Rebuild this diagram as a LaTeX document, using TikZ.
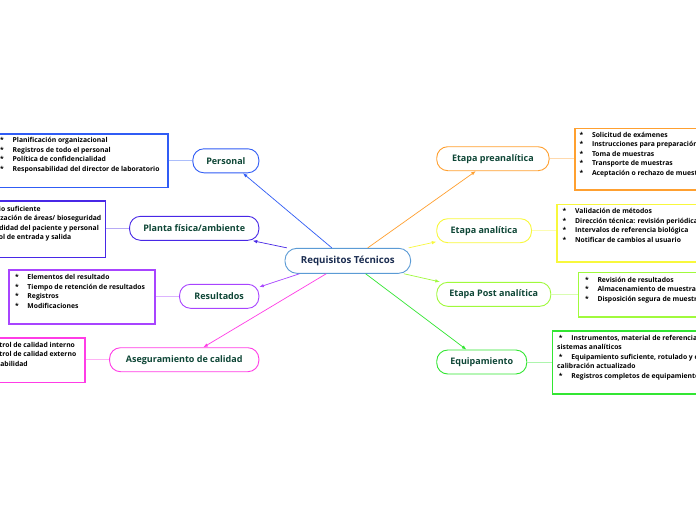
\documentclass[tikz,border=0pt]{standalone}
\usepackage{fontspec}
\setmainfont{Open Sans}
\usepackage{tikz}
\usetikzlibrary{arrows.meta,positioning}
\definecolor{reqBlue}{RGB}{91,155,213}
\definecolor{reqText}{RGB}{26,44,80}
\definecolor{topicText}{RGB}{14,70,54}
\definecolor{cPersonal}{RGB}{48,92,245}
\definecolor{cPlanta}{RGB}{72,40,230}
\definecolor{cResult}{RGB}{168,68,255}
\definecolor{cAseg}{RGB}{255,60,230}
\definecolor{cPre}{RGB}{255,160,48}
\definecolor{cAna}{RGB}{248,248,60}
\definecolor{cPost}{RGB}{160,250,60}
\definecolor{cEquip}{RGB}{50,230,50}
\newcommand{\itm}[1]{\makebox[12.5pt][l]{*}#1}

\begin{document}
\begin{tikzpicture}[x=1pt,y=-1pt,
  topic/.style={draw=#1, fill=white, line width=0.9pt, rounded corners=11pt, minimum height=24pt, inner sep=2pt, text=topicText, font=\fontsize{9}{10}\selectfont\bfseries},
  listbox/.style={draw=#1, line width=1.6pt, anchor=north west, inner sep=0pt},
  listtext/.style={anchor=north west, inner sep=0pt, align=left, font=\fontsize{6.8}{9.5}\selectfont\bfseries},
  feeder/.style={draw=#1!40, line width=0.8pt},
  branch/.style={draw=#1, line width=0.7pt, -{Latex[length=4.5pt,width=3.5pt]}}]
\useasboundingbox (0,0) rectangle (696,520);
\clip (0,0) rectangle (696,520);
\fill[white] (0,0) rectangle (696,520);

% central topic
\node[draw=reqBlue, line width=0.9pt, rounded corners=12pt, minimum width=125.7pt, minimum height=25pt, text=reqText, font=\fontsize{9.7}{11}\selectfont\bfseries] (req) at (347.8,260.8) {Requisitos Técnicos};

% left topics
\node[topic=cPersonal, anchor=east, minimum width=66pt] (personal) at (259.3,160.8) {Personal};
\node[topic=cPlanta, anchor=east, minimum width=129.3pt] (planta) at (259.3,228.3) {Planta física/ambiente};
\node[topic=cResult, anchor=east, minimum width=79.3pt] (resultados) at (259.3,296.3) {Resultados};
\node[topic=cAseg, anchor=east, minimum width=149.3pt] (aseguramiento) at (259.3,359.7) {Aseguramiento de calidad};

% right topics
\node[topic=cPre, anchor=west, minimum width=112.3pt] (preana) at (436.3,158.7) {Etapa preanalítica};
\node[topic=cAna, anchor=west, minimum width=94.7pt] (ana) at (436.3,230.7) {Etapa analítica};
\node[topic=cPost, anchor=west, minimum width=114pt] (postana) at (436.3,294.3) {Etapa Post analítica};
\node[topic=cEquip, anchor=west, minimum width=90pt] (equipo) at (436.3,362) {Equipamiento};

% detail boxes
\node[listbox=cPersonal, minimum width=177pt, minimum height=53.5pt] (personalbox) at (-10,133.3) {};
\node[listtext] (personallist) at (0,137.3) {\itm{Planificación organizacional}\\ \itm{Registros de todo el personal}\\ \itm{Política de confidencialidad}\\ \itm{Responsabilidad del director de laboratorio}};

\node[listbox=cPlanta, minimum width=164.5pt, minimum height=56.7pt] (plantabox) at (-60,200) {};
\node[listtext] (plantalist) at (-32.8,205.8) {\itm{Espacio suficiente}\\ \itm{Señalización de áreas/ bioseguridad}\\ \itm{Comodidad del paciente y personal}\\ \itm{Control de entrada y salida}};

\node[listbox=cResult, minimum width=146pt, minimum height=54.3pt] (resultadosbox) at (8.3,269) {};
\node[listtext] (resultadoslist) at (14.8,274.3) {\itm{Elementos del resultado}\\ \itm{Tiempo de retención de resultados}\\ \itm{Registros}\\ \itm{Modificaciones}};

\node[listbox=cAseg, minimum width=134pt, minimum height=44.4pt] (asegbox) at (-50,337.3) {};
\node[listtext] (aseglist) at (-26.3,341.8) {\itm{Control de calidad interno}\\ \itm{Control de calidad externo}\\ \itm{Trazabilidad}};

\node[listbox=cPre, minimum width=150pt, minimum height=61.5pt] (preanabox) at (574,127.5) {};
\node[listtext] (preanalist) at (579.3,131.8) {\itm{Solicitud de exámenes}\\ \itm{Instrucciones para preparación del paciente}\\ \itm{Toma de muestras}\\ \itm{Transporte de muestras}\\ \itm{Aceptación o rechazo de muestras}};

\node[listbox=cAna, minimum width=170pt, minimum height=57.5pt] (anabox) at (556,203.5) {};
\node[listtext] (analist) at (562.5,208.1) {\itm{Validación de métodos}\\ \itm{Dirección técnica: revisión periódica}\\ \itm{Intervalos de referencia biológica}\\ \itm{Notificar de cambios al usuario}};

\node[listbox=cPost, minimum width=150pt, minimum height=44.3pt] (postbox) at (577.7,271.7) {};
\node[listtext] (postlist) at (584.8,276.6) {\itm{Revisión de resultados}\\ \itm{Almacenamiento de muestras}\\ \itm{Disposición segura de muestras}};

\node[listbox=cEquip, minimum width=170pt, minimum height=63.3pt] (equipobox) at (551.7,330) {};
\node[listtext] (equipolist) at (557,334.8) {\hspace*{1.7pt}\itm{Instrumentos, material de referencia y}\\ sistemas analíticos\\ \hspace*{1.7pt}\itm{Equipamiento suficiente, rotulado y con}\\ calibración actualizado\\ \hspace*{1.7pt}\itm{Registros completos de equipamiento}};

% box to topic lines
\draw[feeder=cPersonal] (personalbox.east |- personal) -- (personal.west);
\draw[feeder=cPlanta] (plantabox.east |- planta) -- (planta.west);
\draw[feeder=cResult] (resultadosbox.east |- resultados) -- (resultados.west);
\draw[feeder=cAseg] (asegbox.east |- aseguramiento) -- (aseguramiento.west);
\draw[feeder=cPre] (preana.east) -- (preanabox.west |- preana);
\draw[feeder=cAna] (ana.east) -- (anabox.west |- ana);
\draw[feeder=cPost] (postana.east) -- (postbox.west |- postana);
\draw[feeder=cEquip] (equipo.east) -- (equipobox.west |- equipo);

% branches from the central topic
\draw[branch=cPersonal] (req.141.6) -- (personal.324.7);
\draw[branch=cPlanta] (req.168.6) -- (planta.348.3);
\draw[branch=cResult] (req.195.3) -- (resultados.13.3);
\draw[branch=cAseg] (req.211) -- (aseguramiento.33);
\draw[branch=cPre] (req.33.1) -- (preana.216.2);
\draw[branch=cAna] (req.12.3) -- (ana.193.6);
\draw[branch=cPost] (req.347.5) -- (postana.167.1);
\draw[branch=cEquip] (req.324) -- (equipo.141);
\end{tikzpicture}
\end{document}
